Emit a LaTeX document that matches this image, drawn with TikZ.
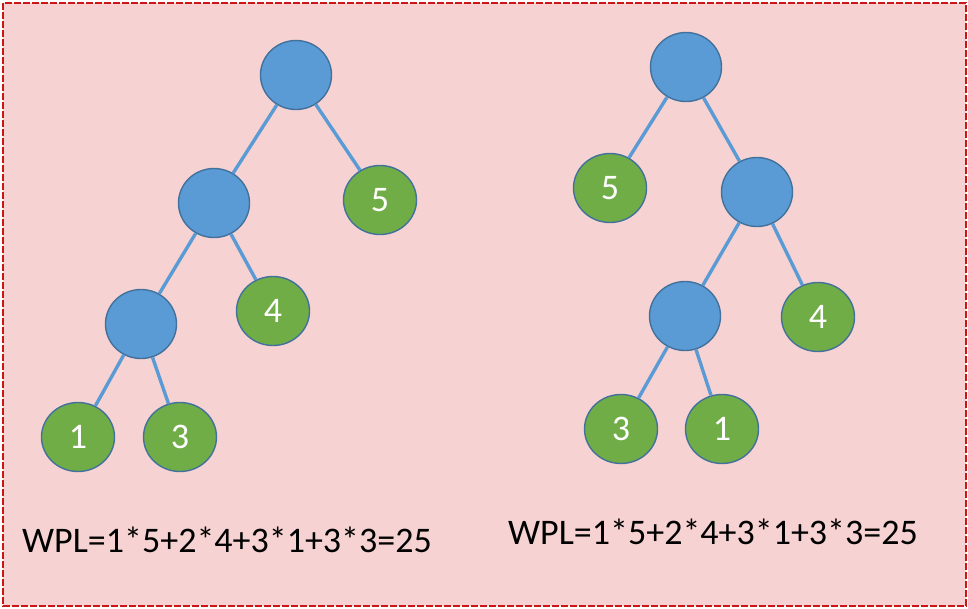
\documentclass[tikz,border=0pt]{standalone}
\usepackage{fontspec}
\usetikzlibrary{shapes.geometric}
\setmainfont{Carlito}
\begin{document}
\begin{tikzpicture}[x=1pt,y=-1pt,
  inner/.style={ellipse,draw=nodeedge,line width=1.4pt,fill=nodeblue,minimum width=71pt,minimum height=69pt,inner sep=0pt},
  leaf/.style={ellipse,draw=nodeedge,line width=1.4pt,fill=leafgreen,minimum width=73pt,minimum height=69pt,inner sep=0pt,text=white,font=\fontsize{36}{40}\selectfont},
  edge/.style={draw=nodeblue,line width=3.4pt},
  formula/.style={anchor=base west,inner sep=0pt,font=\fontsize{36}{42}\selectfont}]
\definecolor{nodeblue}{HTML}{5B9BD5}
\definecolor{nodeedge}{HTML}{41719C}
\definecolor{leafgreen}{HTML}{70AD47}
\definecolor{panelpink}{HTML}{F6D3D2}
\definecolor{framered}{HTML}{CC1515}
\useasboundingbox (0,0) rectangle (968,608);
\fill[panelpink] (3,3) rectangle (966,606);
\draw[framered,line width=2pt,dash pattern=on 7pt off 2pt] (3,3) rectangle (966,606);
% left tree
\node[inner] (lr) at (296,75) {};
\node[inner] (la) at (214,203) {};
\node[leaf]  (l5) at (380,200) {5};
\node[inner] (lb) at (141,324) {};
\node[leaf]  (l4) at (273,311) {4};
\node[leaf]  (l1) at (78,437) {1};
\node[leaf]  (l3) at (180,437) {3};
% right tree
\node[inner] (rr) at (686,67) {};
\node[leaf]  (r5) at (610,188) {5};
\node[inner] (rc) at (757,192) {};
\node[inner] (rd) at (685,316) {};
\node[leaf]  (r4) at (818,317) {4};
\node[leaf]  (r3) at (621,429) {3};
\node[leaf]  (r1) at (722,429) {1};
% connectors between parent and child
\foreach \a/\b in {lr/la,lr/l5,la/lb,la/l4,lb/l1,lb/l3,rr/r5,rr/rc,rc/rd,rc/r4,rd/r3,rd/r1}
  \draw[edge] (\a) -- (\b);
% weighted path length of each tree
\node[formula] (wl) at (22,552) {WPL=1*5+2*4+3*1+3*3=25};
\node[formula] (wr) at (508,544) {WPL=1*5+2*4+3*1+3*3=25};
\end{tikzpicture}
\end{document}
